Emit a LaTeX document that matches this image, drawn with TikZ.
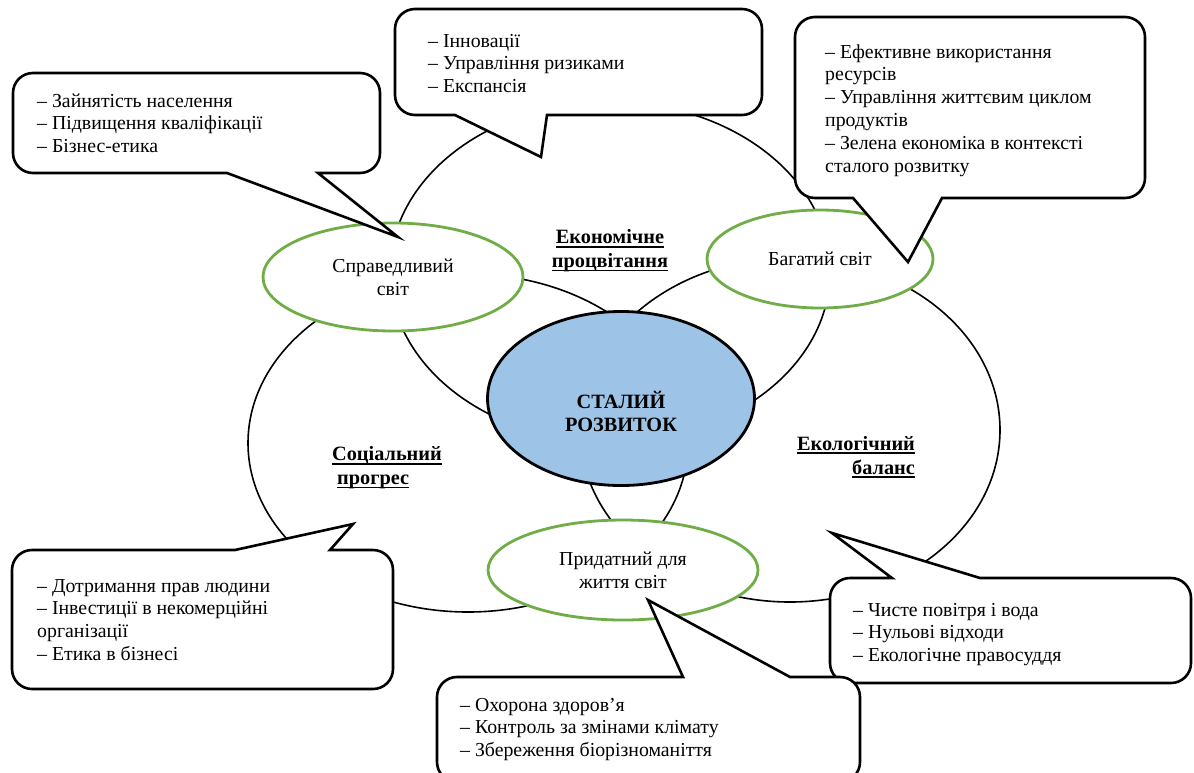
\documentclass[tikz,border=0pt]{standalone}
\usepackage{fontspec}
\setmainfont{Liberation Serif}
\usetikzlibrary{shapes.geometric}
\definecolor{okgreen}{RGB}{112,173,71}
\definecolor{skyfill}{RGB}{157,195,230}
\newcommand\myul[1]{\setbox0\hbox{#1}\rlap{\rule[-3.6pt]{\wd0}{1.6pt}}\box0}
\begin{document}
\begin{tikzpicture}[x=1pt,y=-1pt,
  bigring/.style={draw=black, line width=1.6pt},
  greenell/.style={ellipse, draw=okgreen, line width=2.8pt, fill=white, inner sep=0pt, align=center, font=\fontsize{19.8}{23}\selectfont},
  coreell/.style={ellipse, draw=black, line width=2.8pt, fill=skyfill, inner sep=0pt},
  coretxt/.style={align=center, inner sep=0pt, font=\fontsize{20.3}{23}\selectfont\bfseries},
  callout/.style={draw=black, line width=2.6pt, fill=white, line join=miter, miter limit=12},
  bubbletext/.style={anchor=base west, align=left, inner sep=0pt, font=\fontsize{19.8}{22.8}\selectfont},
  sectorlabel/.style={inner sep=0pt, font=\fontsize{20.3}{23.8}\selectfont\bfseries}]
\useasboundingbox (0,0) rectangle (1194,772);

% three big overlapping rings
\draw[bigring] (610,272) ellipse [x radius=220pt, y radius=170pt];
\draw[bigring] (468,443) ellipse [x radius=220pt, y radius=169pt];
\draw[bigring] (790,430) ellipse [x radius=210pt, y radius=172pt];

% green ellipses
\node[greenell, minimum width=260pt, minimum height=108pt] (just) at (393,277) {Справедливий\\світ};
\node[greenell, minimum width=226pt, minimum height=98pt] (rich) at (820,259) {Багатий світ};
\node[greenell, minimum width=270pt, minimum height=100pt] (live) at (623,570) {Придатний для\\життя світ};

% core
\node[coreell, minimum width=267pt, minimum height=174pt] (core) at (621,398.5) {};
\node[coretxt] (coretext) at (621,411) {СТАЛИЙ\\РОЗВИТОК};

% sector labels
\node[sectorlabel, align=center] (econ) at (610,251) {\myul{Економічне}\\\myul{процвітання}};
\node[sectorlabel, align=left] (social) at (387,468) {\myul{Соціальний}\\\hspace*{5pt}\myul{прогрес}};
\node[sectorlabel, align=right] (ecol) at (856,457) {\myul{Екологічний}\\\myul{баланс}};

% callouts
\draw[callout] (196,73) [rounded corners=20pt] -- (380,73) -- (380,173) [sharp corners] -- (318,173) -- (398,237) -- (227,173) [rounded corners=20pt] -- (13,173) -- (13,73) -- cycle;
\draw[callout] (578,9) [rounded corners=20pt] -- (762,9) -- (762,115) [sharp corners] -- (547,115) -- (541,157) -- (455,115) [rounded corners=20pt] -- (395,115) -- (395,9) -- cycle;
\draw[callout] (970,17) [rounded corners=20pt] -- (1145,17) -- (1145,198) [sharp corners] -- (942,198) -- (908,262) -- (853,198) [rounded corners=20pt] -- (795,198) -- (795,17) -- cycle;
\draw[callout] (12,620) [rounded corners=20pt] -- (12,550) [sharp corners] -- (235,550) -- (353,524) -- (330,550) [rounded corners=20pt] -- (393,550) -- (393,689) -- (12,689) -- cycle;
\draw[callout] (830,630) [rounded corners=20pt] -- (830,578) [sharp corners] -- (892,578) -- (832,533) -- (980,578) [rounded corners=20pt] -- (1191,578) -- (1191,683) -- (830,683) -- cycle;
\draw[callout] (437,730) [rounded corners=20pt] -- (437,677) [sharp corners] -- (683,677) -- (648,600) -- (790,677) [rounded corners=20pt] -- (860,677) -- (860,782) -- (437,782) -- cycle;

% callout texts (anchored at the baseline of the last line)
\node[bubbletext] (t1) at (37,152.6) {– Зайнятість населення\\– Підвищення кваліфікації\\– Бізнес-етика};
\node[bubbletext] (t2) at (428,92.6) {– Інновації\\– Управління ризиками\\– Експансія};
\node[bubbletext] (t3) at (825,172) {– Ефективне використання\\ресурсів\\– Управління життєвим циклом\\продуктів\\– Зелена економіка в контексті\\сталого розвитку};
\node[bubbletext] (t4) at (37,660.4) {– Дотримання прав людини\\– Інвестиції в некомерційні\\організації\\– Етика в бізнесі};
\node[bubbletext] (t5) at (460,756.6) {– Охорона здоров’я\\– Контроль за змінами клімату\\– Збереження біорізноманіття};
\node[bubbletext] (t6) at (853,661.6) {– Чисте повітря і вода\\– Нульові відходи\\– Екологічне правосуддя};
\end{tikzpicture}
\end{document}
